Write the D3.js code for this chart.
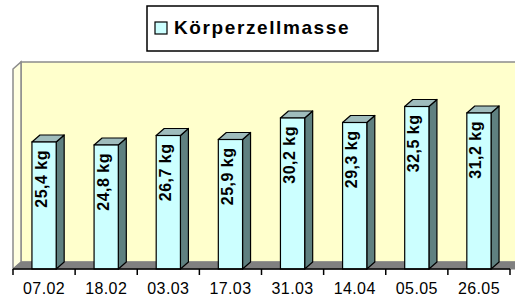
<!DOCTYPE html>
<head>
  <meta charset="utf-8">
  <script src="https://d3js.org/d3.v7.min.js"></script>
  <style>
    body { margin:0; background:#fff; }
    text { font-family: Arial, "Liberation Sans", sans-serif; }
  </style>
</head>
<body>
<script>
  var dates = ["07.02", "18.02", "03.03", "17.03", "31.03", "14.04", "05.05", "26.05"];
  var values = [25.4, 24.8, 26.7, 25.9, 30.2, 29.3, 32.5, 31.2];
  var labels = ["25,4 kg", "24,8 kg", "26,7 kg", "25,9 kg", "30,2 kg", "29,3 kg", "32,5 kg", "31,2 kg"];
  var seriesName = "Körperzellmasse";

  var width = 515, height = 300;
  var dx = 8, dy = -7;   // 3d depth offset

  var svg = d3.select("body").append("svg")
    .attr("width", width)
    .attr("height", height);

  var x = d3.scaleBand().domain(dates).range([13, 510])
    .paddingInner(0.61).paddingOuter(0.305);
  var y = d3.scaleLinear().domain([0, 40]).range([269, 69]);

  var x0 = 13, x1 = 510, yb = y(0), yt = y(40);

  // back wall
  svg.append("rect")
    .attr("x", x0 + dx).attr("y", yt + dy)
    .attr("width", x1 - x0 + 10).attr("height", yb - yt)
    .attr("fill", "#ffffcc").attr("stroke", "#8c8c8c").attr("stroke-width", 1.5);

  // left wall
  svg.append("polygon")
    .attr("points", [[x0, yt], [x0 + dx, yt + dy], [x0 + dx, yb + dy], [x0, yb]].join(" "))
    .attr("fill", "#ffffe0").attr("stroke", "#8c8c8c").attr("stroke-width", 1.5);

  // floor
  svg.append("polygon")
    .attr("points", [[x0, yb], [x0 + dx, yb + dy], [x1 + dx + 10, yb + dy], [x1 + 10, yb]].join(" "))
    .attr("fill", "#808080").attr("stroke", "#808080");

  // bars
  var bars = svg.selectAll(".bar").data(values).enter().append("g").attr("class", "bar");
  var bw = x.bandwidth();

  bars.append("polygon")
    .attr("points", function(d, i) {
      var l = x(dates[i]) + bw, t = y(d);
      return [[l, t], [l + dx, t + dy], [l + dx, yb + dy], [l, yb]].join(" ");
    })
    .attr("fill", "#5f8080").attr("stroke", "#000").attr("stroke-width", 1.2)
    .attr("stroke-linejoin", "round");

  bars.append("polygon")
    .attr("points", function(d, i) {
      var l = x(dates[i]), t = y(d);
      return [[l, t], [l + dx, t + dy], [l + bw + dx, t + dy], [l + bw, t]].join(" ");
    })
    .attr("fill", "#9fbcbc").attr("stroke", "#000").attr("stroke-width", 1.2)
    .attr("stroke-linejoin", "round");

  bars.append("rect")
    .attr("x", function(d, i) { return x(dates[i]); })
    .attr("y", function(d) { return y(d); })
    .attr("width", bw)
    .attr("height", function(d) { return yb - y(d); })
    .attr("fill", "#ccffff").attr("stroke", "#000").attr("stroke-width", 1.2);

  bars.append("text")
    .attr("transform", function(d, i) {
      return "translate(" + (x(dates[i]) + bw / 2 + 2.5) + "," + (y(d) + 8) + ") rotate(-90)";
    })
    .attr("text-anchor", "end")
    .attr("font-size", "16px").attr("font-weight", "bold")
    .attr("letter-spacing", "0.5px")
    .text(function(d, i) { return labels[i]; });

  // x axis: labels centred, ticks on category boundaries
  var axis = svg.append("g")
    .attr("transform", "translate(0," + yb + ")")
    .call(d3.axisBottom(x).tickSize(0).tickPadding(14));
  axis.select(".domain").remove();
  axis.selectAll("text")
    .attr("font-size", "16px").attr("fill", "#000")
    .attr("font-family", "Arial, 'Liberation Sans', sans-serif")
    .attr("letter-spacing", "0.4px");

  var gap = (x.step() - bw) / 2;
  var bounds = dates.map(function(d) { return x(d) - gap; }).concat([x0 + x.step() * dates.length]);
  svg.selectAll(".tick-mark").data(bounds).enter().append("line")
    .attr("x1", function(d) { return d; }).attr("x2", function(d) { return d; })
    .attr("y1", yb).attr("y2", yb + 6)
    .attr("stroke", "#000").attr("stroke-width", 1.5);
  svg.append("line")
    .attr("x1", x0).attr("x2", x1).attr("y1", yb).attr("y2", yb)
    .attr("stroke", "#000").attr("stroke-width", 1.5);

  // legend
  var lg = svg.append("g");
  lg.append("rect").attr("x", 147).attr("y", 6).attr("width", 231).attr("height", 45)
    .attr("fill", "#fff").attr("stroke", "#000").attr("stroke-width", 1.5);
  lg.append("rect").attr("x", 155).attr("y", 22).attr("width", 12).attr("height", 12)
    .attr("fill", "#ccffff").attr("stroke", "#000").attr("stroke-width", 1.2);
  lg.append("text").attr("x", 174).attr("y", 34)
    .attr("font-size", "19px").attr("font-weight", "bold")
    .attr("letter-spacing", "1.6px")
    .text(seriesName);
</script>
</body>
